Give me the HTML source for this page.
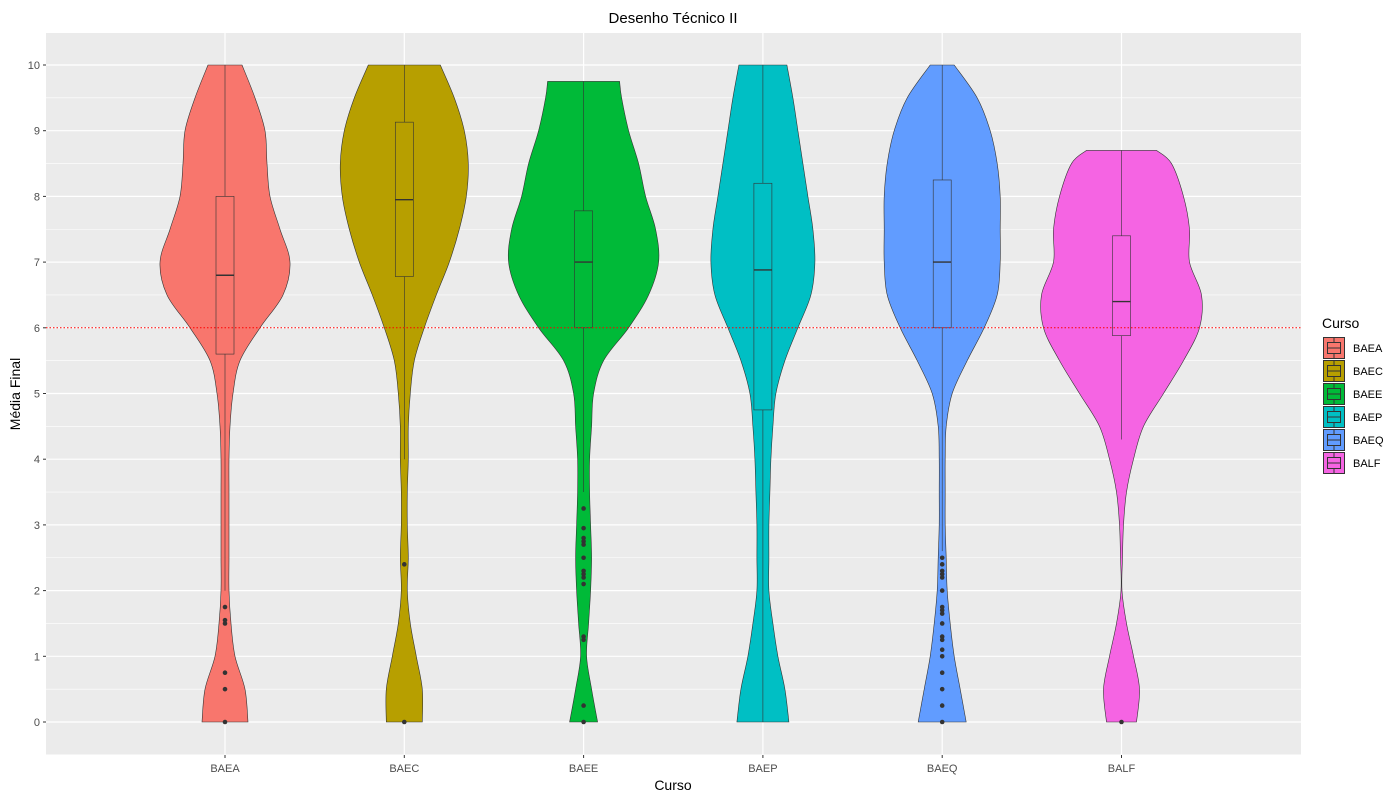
<!DOCTYPE html>
<html><head><meta charset="utf-8"><style>
body{margin:0;background:#fff;}
svg{display:block;font-family:"Liberation Sans",Arial,sans-serif;}
</style></head><body>
<svg id="chart" width="1400" height="800"></svg>
<script>
const categories=["BAEA","BAEC","BAEE","BAEP","BAEQ","BALF"];
const colors=["#F8766D","#B79F00","#00BA38","#00BFC4","#619CFF","#F564E3"];
const densityLevels=[0,0.5,1,1.5,2,2.5,3,3.5,4,4.5,5,5.5,6,6.5,7,7.5,8,8.5,9,9.5,10];
const densities=[
 [23,20,10,6,4,4,4,4,4,5,8,15,35,58,65,55,45,42,40,30,17],
 [18,18,12,6,3,4,3,3,4,4,6,10,20,32,45,55,62,64,60,50,36],
 [14,8,3,5,7,8,7,6,6,8,10,20,45,65,75,72,62,55,45,38,36],
 [26,22,15,10,6,6,6,7,8,10,13,22,35,48,52,50,45,40,35,30,24],
 [24,18,12,8,5,4,3,3,3,4,10,25,42,55,58,58,58,55,48,35,12],
 [15,18,12,5,0.5,1,2,5,12,22,42,62,78,80,68,68,62,50,35,35,35]
];
const dataMin=[0,0,0,0,0,0];
const dataMax=[10,10,9.75,10,10,8.7];
const q1=[5.6,6.78,6.0,4.75,6.0,5.88];
const med=[6.8,7.95,7.0,6.88,7.0,6.4];
const q3=[8.0,9.13,7.78,8.2,8.25,7.4];
const whiskLo=[2.0,4.0,3.5,0,2.6,4.3];
const whiskHi=[10,10,9.75,10,10,8.7];
const outliers=[
 [1.75,1.55,1.5,0.75,0.5,0],
 [2.4,0],
 [3.25,2.95,2.8,2.75,2.7,2.5,2.3,2.25,2.2,2.1,1.3,1.25,0.25,0],
 [],
 [2.5,2.4,2.3,2.25,2.2,2.0,1.75,1.7,1.65,1.5,1.3,1.25,1.1,1.0,0.75,0.5,0.25,0],
 [0]
];
const yTicks=[0,1,2,3,4,5,6,7,8,9,10];
const refLine=6;

const svg=document.getElementById('chart');
const NS="http://www.w3.org/2000/svg";
function mk(t,a,p){const e=document.createElementNS(NS,t);for(const k in a)e.setAttribute(k,a[k]);(p||svg).appendChild(e);return e;}
const P={l:46,r:1301,t:33,b:755};
const y=v=>722-v*65.7;
const x=i=>225+i*179.3;

let bg=mk('rect',{x:P.l,y:P.t,width:P.r-P.l,height:P.b-P.t,fill:'#EBEBEB'});


for(let v=-0.5;v<=10.5;v+=1){if(y(v)>P.t&&y(v)<P.b)mk('line',{x1:P.l,x2:P.r,y1:y(v),y2:y(v),stroke:'#fff','stroke-width':0.6});}
yTicks.forEach(v=>{
 mk('line',{x1:P.l,x2:P.r,y1:y(v),y2:y(v),stroke:'#fff','stroke-width':1.2});
 mk('line',{x1:P.l-3,x2:P.l,y1:y(v),y2:y(v),stroke:'#333','stroke-width':1});
 const t=mk('text',{x:P.l-6,y:y(v)+4,'text-anchor':'end','font-size':11,fill:'#4D4D4D'});t.textContent=v;
 
 
});
categories.forEach((c,i)=>{
 mk('line',{x1:x(i),x2:x(i),y1:P.t,y2:P.b,stroke:'#fff','stroke-width':1.2});
 mk('line',{x1:x(i),x2:x(i),y1:P.b,y2:P.b+3,stroke:'#333','stroke-width':1});
 const t=mk('text',{x:x(i),y:P.b+17,'text-anchor':'middle','font-size':11,fill:'#4D4D4D'});t.textContent=c;
 
 
});

function smooth(pts){let d='';for(let i=0;i<pts.length-1;i++){const p0=pts[Math.max(i-1,0)],p1=pts[i],p2=pts[i+1],p3=pts[Math.min(i+2,pts.length-1)];
 const c1=[p1[0]+(p2[0]-p0[0])/6,p1[1]+(p2[1]-p0[1])/6],c2=[p2[0]-(p3[0]-p1[0])/6,p2[1]-(p3[1]-p1[1])/6];
 d+=` C${c1[0]},${c1[1]} ${c2[0]},${c2[1]} ${p2[0]},${p2[1]}`;}return d;}

categories.forEach((c,i)=>{
 const g=mk('g',{});
 
 
 const pts=[];
 densityLevels.forEach((v,k)=>{ if(v<=dataMax[i]) pts.push([v,densities[i][k]]); });
 if(pts[pts.length-1][0]<dataMax[i]){const k=densityLevels.findIndex(v=>v>dataMax[i]);pts.push([dataMax[i],densities[i][k]]);}
 const right=pts.map(p=>[x(i)+p[1],y(p[0])]);
 const left=pts.slice().reverse().map(p=>[x(i)-p[1],y(p[0])]);
 let d=`M${right[0][0]},${right[0][1]}`+smooth(right)+` L${left[0][0]},${left[0][1]}`+smooth(left)+'Z';
 mk('path',{d:d,fill:colors[i],stroke:'#333','stroke-width':0.6},g);
 const bw=9;
 mk('line',{x1:x(i),x2:x(i),y1:y(whiskHi[i]),y2:y(q3[i]),stroke:'#333','stroke-width':0.6},g);
 mk('line',{x1:x(i),x2:x(i),y1:y(q1[i]),y2:y(whiskLo[i]),stroke:'#333','stroke-width':0.6},g);
 mk('rect',{x:x(i)-bw,y:y(q3[i]),width:2*bw,height:y(q1[i])-y(q3[i]),fill:colors[i],stroke:'#333','stroke-width':0.6},g);
 mk('line',{x1:x(i)-bw,x2:x(i)+bw,y1:y(med[i]),y2:y(med[i]),stroke:'#333','stroke-width':1.4},g);
 outliers[i].forEach(o=>{const p=mk('circle',{cx:x(i),cy:y(o),r:2.3,fill:'#333'},g);
  
  });
});
const hl=mk('line',{x1:P.l,x2:P.r,y1:y(refLine),y2:y(refLine),stroke:'red','stroke-width':1,'stroke-dasharray':'1.5,2'});



let t=mk('text',{x:673,y:23,'text-anchor':'middle','font-size':15,fill:'#000'});t.textContent='Desenho Técnico II';

t=mk('text',{x:673,y:790,'text-anchor':'middle','font-size':14,fill:'#000'});t.textContent='Curso';

t=mk('text',{x:20,y:394,'text-anchor':'middle','font-size':14,fill:'#000',transform:'rotate(-90 20 394)'});t.textContent='Média Final';

t=mk('text',{x:1322,y:328,'font-size':14,fill:'#000'});t.textContent='Curso';

categories.forEach((c,i)=>{
 const g=mk('g',{});
 
 
 const ty=337+i*23;
 mk('rect',{x:1323.5,y:ty+0.5,width:21,height:21,fill:colors[i],stroke:'#333','stroke-width':1},g);
 mk('line',{x1:1334,x2:1334,y1:ty+1,y2:ty+5,stroke:'#333'},g);
 mk('line',{x1:1334,x2:1334,y1:ty+17,y2:ty+21,stroke:'#333'},g);
 mk('rect',{x:1327.5,y:ty+5.5,width:13,height:11,fill:colors[i],stroke:'#333','stroke-width':1},g);
 mk('line',{x1:1327,x2:1341,y1:ty+11,y2:ty+11,stroke:'#333'},g);
 const tt=mk('text',{x:1353,y:ty+15,'font-size':11,fill:'#000'},g);tt.textContent=c;
});
</script></body></html>
